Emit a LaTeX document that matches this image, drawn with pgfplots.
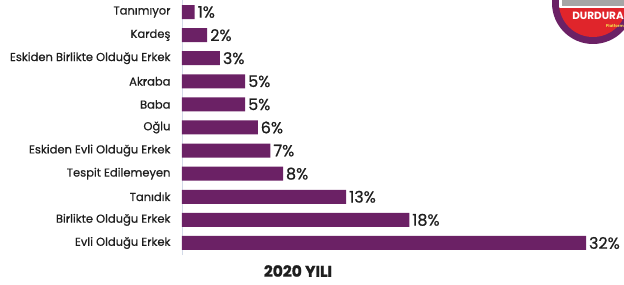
\documentclass[border=0pt]{standalone}
\usepackage{pgfplots}
\pgfplotsset{compat=1.18}
\usepackage{fontspec}
\setmainfont{Poppins}
\newfontfamily\medfont{Poppins}[FakeBold=0.6]
\newfontfamily\heavyfont{Poppins Bold}[FakeBold=1.2]
\definecolor{barpurple}{HTML}{6B2165}
\definecolor{txt}{HTML}{1E1E1E}
\definecolor{axisline}{HTML}{D3DAE8}
\definecolor{logored}{HTML}{E0252B}
\definecolor{logoyellow}{HTML}{F5D74A}
\begin{document}
\begin{tikzpicture}[x=1pt,y=1pt]
\useasboundingbox (0,0) rectangle (624,284);
\begin{axis}[
  at={(182pt,29pt)}, anchor=south west,
  scale only axis, width=404pt, height=255pt,
  xmin=0, xmax=32, ymin=-0.52, ymax=10.52,
  xbar, bar width=14pt,
  axis x line=none, axis y line=left,
  axis line style={-, draw=axisline, line width=0.6pt},
  ytick={0,1,2,3,4,5,6,7,8,9,10},
  yticklabels={Evli Olduğu Erkek, Birlikte Olduğu Erkek, Tanıdık, Tespit Edilemeyen, Eskiden Evli Olduğu Erkek, Oğlu, Baba, Akraba, Eskiden Birlikte Olduğu Erkek, Kardeş, Tanımıyor},
  major tick length=0pt,
  yticklabel style={font=\medfont\fontsize{11.5}{13}\selectfont, text=txt, xshift=-8pt},
  point meta=x,
  /pgf/number format/assume math mode=true,
  nodes near coords={\pgfmathprintnumber{\pgfplotspointmeta}\%},
  nodes near coords style={font=\medfont\fontsize{16}{19}\selectfont, text=txt, anchor=west, xshift=-0.5pt},
  clip=false,
]
\addplot[fill=barpurple, draw=none] coordinates {
  (32,0) (18,1) (13,2) (8,3) (7,4) (6,5) (5,6) (5,7) (3,8) (2,9) (1,10)
};
\end{axis}
\node[text=txt, font=\heavyfont\fontsize{15.5}{18}\selectfont] at (298,13) {2020 YILI};
\begin{scope}
  \clip (0,0) rectangle (624,284);
  \fill[barpurple] (593,281) circle (41);
  \fill[logored] (593,281) circle (34);
  \begin{scope}
    \clip (593,281) circle (34);
    \fill[white] (550,276) rectangle (640,320);
    \fill[gray!70] (562,278) rectangle (624,284);
  \end{scope}
  \node[anchor=east, text=white, font=\bfseries\fontsize{10.5}{11}\selectfont, inner sep=0pt] at (624,268) {DURDURA};
  \node[anchor=east, text=logoyellow, font=\bfseries\fontsize{4}{4}\selectfont, inner sep=0pt] at (624,258) {Platform};
\end{scope}
\end{tikzpicture}
\end{document}
